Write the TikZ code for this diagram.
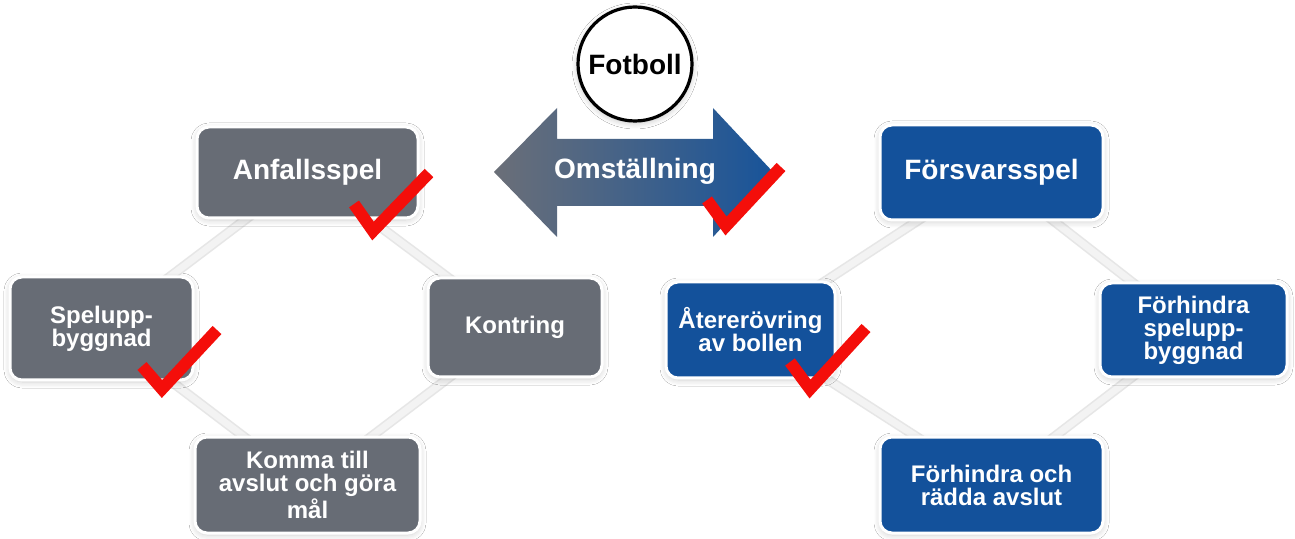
\documentclass[tikz,border=0pt]{standalone}
\usepackage{fontspec}
\setmainfont{Liberation Sans}
\usetikzlibrary{shadows,shadows.blur}
\definecolor{boxgrey}{HTML}{676C75}
\definecolor{boxblue}{HTML}{13519B}
\definecolor{arrgrey}{HTML}{6B6F78}
\definecolor{arrblue}{HTML}{18549A}
\definecolor{tick}{HTML}{F40E0A}
\definecolor{linkc}{HTML}{F3F3F3}
\definecolor{linkedge}{HTML}{E6E6E6}
\tikzset{
  box/.style={rectangle, rounded corners=6pt, draw=white, line width=1.5pt, inner sep=0pt,
    align=center, text=white, font=\bfseries,
    blur shadow={shadow blur steps=6, shadow xshift=0pt, shadow yshift=-1pt, shadow opacity=20, shadow blur radius=3pt}},
  greybox/.style={box, fill=boxgrey},
  bluebox/.style={box, fill=boxblue},
  big/.style={font=\fontsize{14}{15}\selectfont\bfseries},
  small/.style={font=\fontsize{12}{11.5}\selectfont\bfseries},
  linkbg/.style={draw=linkedge, line width=5pt},
  linkfg/.style={draw=linkc, line width=3.4pt},
  tickmark/.style={draw=tick, line width=6pt, line join=miter, line cap=butt},
}
\begin{document}
\begin{tikzpicture}[x=0.5pt, y=-0.5pt]
\useasboundingbox[fill=white] (0,0) rectangle (1295,539);

% node positions
\coordinate (cA) at (307.5,172.5);
\coordinate (cS) at (101.5,328.5);
\coordinate (cK) at (515,327.5);
\coordinate (cM) at (307.5,485);
\coordinate (cF) at (991.5,172.5);
\coordinate (cR) at (750.5,330);
\coordinate (cP) at (1193.5,330);
\coordinate (cD) at (991.5,485);

% connectors
\foreach \a/\b in {cA/cS, cA/cK, cS/cM, cK/cM, cF/cR, cF/cP, cR/cD, cP/cD}{
  \draw[linkbg] (\a) -- (\b);
  \draw[linkfg] (\a) -- (\b);
}

% left boxes
\node[greybox, big, minimum width=110.5pt, minimum height=45.5pt] (anfall) at (cA) {Anfallsspel};
\node[greybox, small, minimum width=91.5pt, minimum height=51.5pt] (spel) at (cS) {Spelupp-\\byggnad};
\node[greybox, small, minimum width=87pt, minimum height=49.5pt] (kont) at (cK) {Kontring};
\node[greybox, small, minimum width=112.5pt, minimum height=48pt] (komma) at (cM) {Komma till\\avslut och göra\\mål};

% right boxes
\node[bluebox, big, minimum width=111.5pt, minimum height=47.5pt] (forsv) at (cF) {Försvarsspel};
\node[bluebox, small, minimum width=84.5pt, minimum height=48pt] (ater) at (cR) {Återerövring\\av bollen};
\node[bluebox, small, minimum width=93.5pt, minimum height=47pt] (forhs) at (cP) {Förhindra\\spelupp-\\byggnad};
\node[bluebox, small, minimum width=111.5pt, minimum height=48pt] (forho) at (cD) {Förhindra och\\rädda avslut};

% double arrow
\shade[left color=arrgrey, right color=arrblue]
  (494,172) -- (557,108) -- (557,139) -- (713,139) -- (713,108) -- (773,172)
  -- (713,237) -- (713,206) -- (557,206) -- (557,237) -- cycle;
\node[big, text=white] (omst) at (635,171) {Omställning};

% circle
\node[circle, draw=black, line width=1.6pt, fill=white, minimum size=57pt, inner sep=0pt,
  font=\fontsize{14}{15}\selectfont\bfseries,
  blur shadow={shadow blur steps=6, shadow xshift=0pt, shadow yshift=-1pt, shadow opacity=25, shadow blur radius=3pt}]
  (fotboll) at (635,64) {Fotboll};

% check marks
\draw[tickmark] (354,204) -- (373,231) -- (429,173);
\draw[tickmark] (707,200) -- (726,226) -- (781,167);
\draw[tickmark] (142,366) -- (162,389) -- (217,330);
\draw[tickmark] (790,362) -- (810,389) -- (866,328);
\end{tikzpicture}
\end{document}
